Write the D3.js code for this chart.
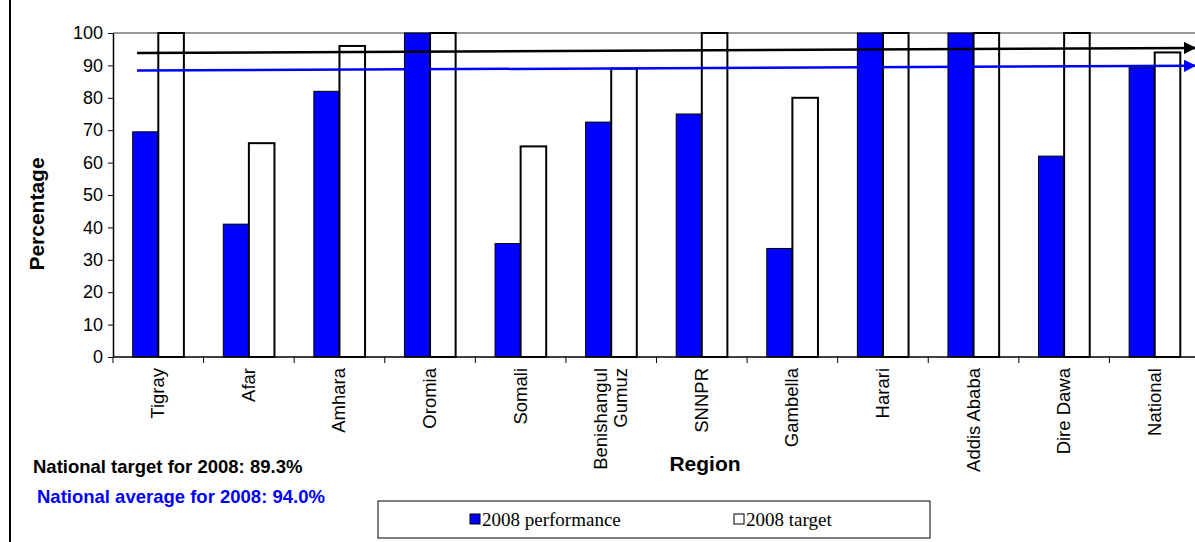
<!DOCTYPE html>
<html><head><meta charset="utf-8">
<script src="https://cdn.jsdelivr.net/npm/d3@7"></script>
<style>body{margin:0;background:#fff}text{font-family:"Liberation Sans",Arial,sans-serif}</style>
</head><body><svg id="c" width="1195" height="542"></svg>
<script>
const regions = ["Tigray","Afar","Amhara","Oromia","Somali","Benishangul\nGumuz","SNNPR","Gambella","Harari","Addis Ababa","Dire Dawa","National"];
const performance = [69.5,41,82,100,35,72.5,75,33.5,100,100,62,89.3];
const target = [100,66,96,100,65,89,100,80,100,100,100,94];
const yTicks = [0,10,20,30,40,50,60,70,80,90,100];
const targetLine = [93.8,95.4];
const averageLine = [88.4,89.9];

const svg = d3.select("#c");
const x = d3.scaleBand().domain(regions).range([113,1200]).paddingInner(0.435).paddingOuter(0.2175);
const y = d3.scaleLinear().domain([0,100]).range([357,33]);

svg.append("line").attr("x1",10).attr("x2",10).attr("y1",0).attr("y2",542).attr("stroke","#000").attr("stroke-width",2);
svg.append("line").attr("x1",113).attr("x2",1195).attr("y1",y(100)).attr("y2",y(100)).attr("stroke","#999").attr("stroke-width",2);

const bw = x.bandwidth();
svg.selectAll(".p").data(regions).enter().append("rect")
  .attr("x",d=>x(d)).attr("y",(d,i)=>y(performance[i])).attr("width",bw/2).attr("height",(d,i)=>y(0)-y(performance[i]))
  .attr("fill","#0000ff").attr("stroke","#000").attr("stroke-width",1);
svg.selectAll(".t").data(regions).enter().append("rect")
  .attr("x",d=>x(d)+bw/2).attr("y",(d,i)=>y(target[i])).attr("width",bw/2).attr("height",(d,i)=>y(0)-y(target[i]))
  .attr("fill","#fff").attr("stroke","#000").attr("stroke-width",2);

const ax = svg.append("g").attr("transform","translate(113,0)").call(d3.axisLeft(y).tickValues(yTicks).tickSize(5).tickSizeOuter(0));
ax.select(".domain").attr("stroke-width",1.5);
ax.selectAll("text").attr("font-size",18).attr("dx",-2);
svg.append("line").attr("x1",113).attr("x2",1195).attr("y1",y(0)).attr("y2",y(0)).attr("stroke","#000").attr("stroke-width",1.5);
svg.selectAll(".tk").data(regions).enter().append("line")
  .attr("x1",(d,i)=>113+i*(1087/12)).attr("x2",(d,i)=>113+i*(1087/12)).attr("y1",y(0)).attr("y2",y(0)+6).attr("stroke","#000");

const defs = svg.append("defs");
[["ab","#000"],["ab2","#0000ff"]].forEach(([id,c])=>{
  defs.append("marker").attr("id",id).attr("viewBox","0 0 10 10").attr("refX",9).attr("refY",5)
    .attr("markerWidth",5).attr("markerHeight",5).attr("orient","auto")
    .append("path").attr("d","M0,0L10,5L0,10z").attr("fill",c);
});
svg.append("line").attr("x1",137).attr("x2",1195).attr("y1",y(targetLine[0])).attr("y2",y(targetLine[1]))
  .attr("stroke","#000").attr("stroke-width",2.5).attr("marker-end","url(#ab)");
svg.append("line").attr("x1",137).attr("x2",1195).attr("y1",y(averageLine[0])).attr("y2",y(averageLine[1]))
  .attr("stroke","#0000ff").attr("stroke-width",2.5).attr("marker-end","url(#ab2)");

regions.forEach(r=>{
  const lines = r.split("\n");
  const cx = x(r)+bw/2;
  const t = svg.append("text").attr("transform",`translate(${cx},368) rotate(-90)`).attr("text-anchor","end").attr("font-size",18.5);
  lines.forEach((l,j)=>t.append("tspan").attr("x",0).attr("y",6-(lines.length-1)*10+j*20).text(l));
});

svg.append("text").attr("transform","translate(44,214) rotate(-90)").attr("text-anchor","middle")
  .attr("font-size",21).attr("font-weight","bold").text("Percentage");
svg.append("text").attr("x",705).attr("y",471).attr("text-anchor","middle").attr("font-size",21).attr("font-weight","bold").text("Region");
svg.append("text").attr("x",33).attr("y",473).attr("font-size",18.5).attr("font-weight","bold").text("National target for 2008: 89.3%");
svg.append("text").attr("x",37).attr("y",503).attr("font-size",18.5).attr("font-weight","bold").attr("fill","#0000ff").text("National average for 2008: 94.0%");

const lg = svg.append("g");
lg.append("rect").attr("x",378).attr("y",501).attr("width",552).attr("height",37).attr("fill","#fff").attr("stroke","#000");
const items = [["2008 performance","#0000ff",470],["2008 target","#fff",734]];
items.forEach(([t,c,lx])=>{
  lg.append("rect").attr("x",lx).attr("y",514).attr("width",10).attr("height",10).attr("fill",c).attr("stroke","#000");
  lg.append("text").attr("x",lx+12).attr("y",526).style("font-family","'Liberation Serif',serif").attr("font-size",19).text(t);
});
</script></body></html>
